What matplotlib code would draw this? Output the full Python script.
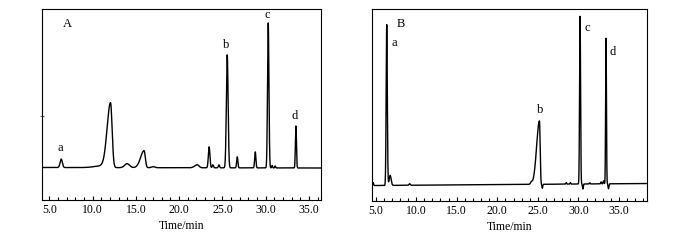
import numpy as np
import matplotlib
matplotlib.use("Agg")
import matplotlib.pyplot as plt
from matplotlib.ticker import MultipleLocator, FormatStrFormatter

plt.rcParams['font.family'] = ['Liberation Serif', 'DejaVu Serif']

# ---- Panel A peak table (retention time / min, height, left width, right width)
a_times   = [6.37, 10.9, 12.07, 13.98, 15.95, 17.0, 22.1, 23.47, 23.9, 24.6, 25.56, 26.72, 28.8, 30.3, 30.75, 31.1, 33.5]
a_heights = [8.5,  1.5,  65.0,  4.0,   17.0,  1.0, 3.0,  21.0,  3.0,  3.0,  113.0, 11.0,  16.0, 145.0, 2.5,  2.0,  42.0]
a_wl      = [0.13, 0.8,  0.40,  0.28,  0.40,  0.2, 0.3,  0.09,  0.07, 0.07, 0.10,  0.07,  0.07, 0.08,  0.05, 0.05, 0.06]
a_wr      = [0.13, 0.3,  0.18,  0.28,  0.14,  0.2, 0.2,  0.09,  0.07, 0.07, 0.10,  0.07,  0.07, 0.08,  0.05, 0.05, 0.06]

# ---- Panel B peak table
b_times   = [4.7,  6.38, 6.8,  9.2,  24.2, 25.2, 25.55, 28.5, 29.0, 30.2, 30.55, 31.4, 32.8, 33.1, 33.4, 33.7]
b_heights = [3.0,  161., 10.0, 1.5,  2.0,  63.5, -4.0,  1.5,  1.5,  168., -5.0,  1.2,  2.0,  3.0,  146., -5.0]
b_wl      = [0.05, 0.07, 0.12, 0.08, 0.1,  0.35, 0.05,  0.05, 0.05, 0.06, 0.05,  0.05, 0.05, 0.05, 0.05, 0.05]
b_wr      = [0.05, 0.07, 0.12, 0.08, 0.1,  0.08, 0.05,  0.05, 0.05, 0.06, 0.05,  0.05, 0.05, 0.05, 0.05, 0.05]

# peak labels: (text, time, height)
a_labels = [("a", 6.23, 20), ("b", 25.4, 123), ("c", 30.2, 153), ("d", 33.3, 52)]
b_labels = [("a", 7.27, 142), ("b", 25.27, 75), ("c", 31.06, 157), ("d", 34.26, 133)]

xtick_major = 5.0
xtick_minor = 1.0


def trace(t, times, heights, wl, wr, base0, base1):
    y = np.linspace(base0, base1, t.size)
    for mu, h, sl, sr in zip(times, heights, wl, wr):
        s = np.where(t < mu, sl, sr)
        y = y + h * np.exp(-0.5 * ((t - mu) / s) ** 2)
    return y


fig = plt.figure(figsize=(7.0, 2.4), dpi=100)
axA = fig.add_axes([42/700, 1-200/240, 279/700, 191/240])
axB = fig.add_axes([372.3/700, 1-201/240, 274.3/700, 191.7/240])

tA = np.linspace(4.15, 36.4, 6000)
yA = trace(tA, a_times, a_heights, a_wl, a_wr, 0.5, 0.0)
axA.plot(tA, yA, color='black', lw=1.0)
axA.set_xlim(4.15, 36.4)
axA.set_ylim(-32, 159)
axA.text(7.05, 144, "A", fontsize=9, ha='center', va='center')
for s, x, y in a_labels:
    axA.text(x, y, s, fontsize=9, ha='center', va='center')

tB = np.linspace(4.6, 38.4, 6000)
yB = trace(tB, b_times, b_heights, b_wl, b_wr, -0.5, 1.5)
axB.plot(tB, yB, color='black', lw=1.0)
axB.set_xlim(4.6, 38.4)
axB.set_ylim(-16, 176)
axB.text(8.06, 161, "B", fontsize=9, ha='center', va='center')
for s, x, y in b_labels:
    axB.text(x, y, s, fontsize=9, ha='center', va='center')

for ax in (axA, axB):
    ax.xaxis.set_major_locator(MultipleLocator(xtick_major))
    ax.xaxis.set_minor_locator(MultipleLocator(xtick_minor))
    ax.xaxis.set_major_formatter(FormatStrFormatter('%.1f'))
    ax.tick_params(axis='x', which='major', direction='in', length=3, width=0.8,
                   labelsize=8.5, pad=3)
    ax.tick_params(axis='x', which='minor', direction='in', length=2, width=0.8)
    ax.set_xlabel("Time/min", fontsize=8.5, labelpad=3)
    for sp in ax.spines.values():
        sp.set_linewidth(0.8)

axA.set_yticks([52])
axA.set_yticklabels([])
axA.tick_params(axis='y', direction='inout', length=3, width=0.8, color='0.4')
axB.set_yticks([])

fig.savefig("out.png", dpi=100)
